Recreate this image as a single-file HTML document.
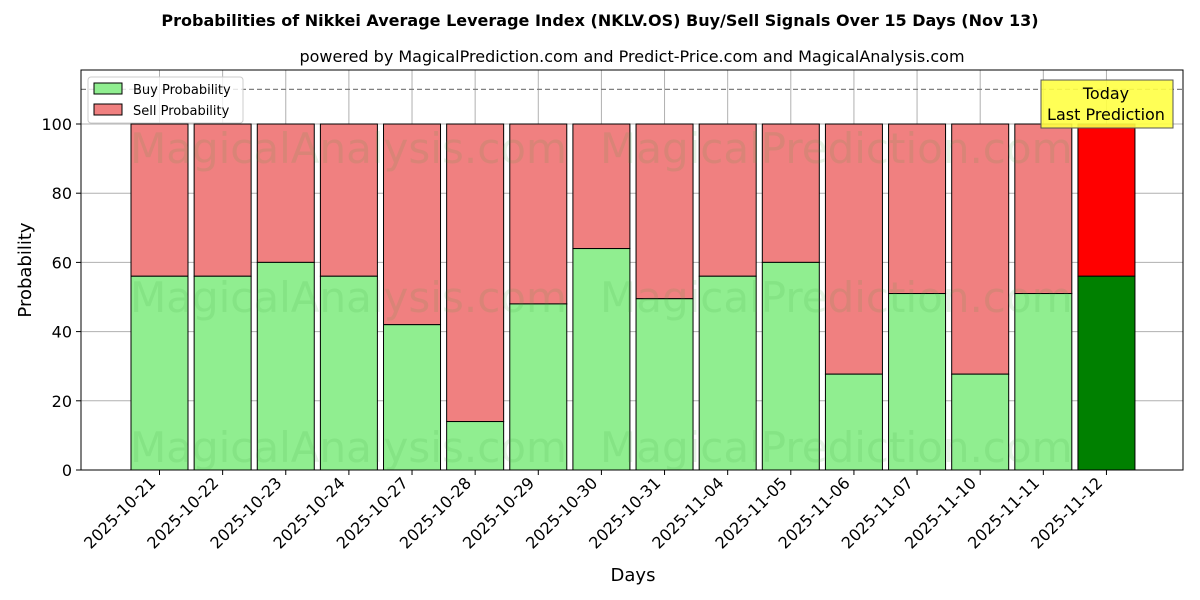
<!DOCTYPE html>
<html><head><meta charset="utf-8"><style>body{margin:0;background:#fff}svg{display:block}text{font-family:"DejaVu Sans","Liberation Sans",sans-serif}</style></head><body>
<svg width="1200" height="600" xmlns="http://www.w3.org/2000/svg">
<text x="600" y="26" text-anchor="middle" font-size="16" font-weight="bold">Probabilities of Nikkei Average Leverage Index (NKLV.OS) Buy/Sell Signals Over 15 Days (Nov 13)</text>
<text x="632" y="62" text-anchor="middle" font-size="16">powered by MagicalPrediction.com and Predict-Price.com and MagicalAnalysis.com</text>
<g id="grid" stroke="#b0b0b0" stroke-width="1"></g>
<g id="bars"></g>
<g fill="rgba(60,160,60,0.13)" font-size="42">
<text x="130" y="163">MagicalAnalysis.com</text><text x="600" y="163">MagicalPrediction.com</text>
<text x="130" y="312">MagicalAnalysis.com</text><text x="600" y="312">MagicalPrediction.com</text>
<text x="130" y="462">MagicalAnalysis.com</text><text x="600" y="462">MagicalPrediction.com</text>
</g>
<line x1="81" y1="89.4" x2="1183" y2="89.4" stroke="#808080" stroke-width="1.2" stroke-dasharray="5,3"/>
<rect x="81" y="70" width="1102" height="400" fill="none" stroke="#000" stroke-width="1"/>
<g id="ticks" font-size="16"></g>
<text x="633" y="581" text-anchor="middle" font-size="18">Days</text>
<text transform="translate(31,270) rotate(-90)" text-anchor="middle" font-size="18">Probability</text>
<g>
<rect x="88" y="77" width="155" height="46" fill="#fff" fill-opacity="0.8" stroke="#ccc" rx="3"/>
<rect x="94" y="83" width="28" height="11" fill="#90ee90" stroke="#000"/>
<text x="133" y="94" font-size="13">Buy Probability</text>
<rect x="94" y="104" width="28" height="11" fill="#f08080" stroke="#000"/>
<text x="133" y="115" font-size="13">Sell Probability</text>
</g>
<rect x="1041" y="80" width="132" height="48" fill="#ffff44" fill-opacity="0.9" stroke="#555"/>
<text x="1106" y="99" text-anchor="middle" font-size="16">Today</text>
<text x="1106" y="120" text-anchor="middle" font-size="16">Last Prediction</text>
<script>
var ns="http://www.w3.org/2000/svg";
function el(p,t,a,tx){var e=document.createElementNS(ns,t);for(var k in a)e.setAttribute(k,a[k]);if(tx!==undefined)e.textContent=String(tx);document.getElementById(p).appendChild(e);}
var d=["2025-10-21","2025-10-22","2025-10-23","2025-10-24","2025-10-27","2025-10-28","2025-10-29","2025-10-30","2025-10-31","2025-11-04","2025-11-05","2025-11-06","2025-11-07","2025-11-10","2025-11-11","2025-11-12"];
var v=[56,56,60,56,42,14,48,64,49.5,56,60,27.7,51,27.7,51,56];
function Y(p){return 470-p*3.46;}
for(var j=0;j<=100;j+=20){el("grid","line",{x1:81,x2:1183,y1:Y(j),y2:Y(j)});el("ticks","line",{x1:76,x2:81,y1:Y(j),y2:Y(j),stroke:"#000"});el("ticks","text",{x:72,y:Y(j)+6,"text-anchor":"end"},j);}
for(var i=0;i<16;i++){var c=159.5+63.13*i;el("grid","line",{x1:c,x2:c,y1:70,y2:470});
var last=i==15;
el("bars","rect",{x:c-28.5,y:Y(100),width:57,height:Y(v[i])-Y(100),fill:last?"#ff0000":"#f08080",stroke:"#000","stroke-width":1});
el("bars","rect",{x:c-28.5,y:Y(v[i]),width:57,height:470-Y(v[i]),fill:last?"#008000":"#90ee90",stroke:"#000","stroke-width":1});
el("ticks","line",{x1:c,x2:c,y1:470,y2:475,stroke:"#000"});
el("ticks","text",{x:0,y:0,"text-anchor":"end",transform:"translate("+(c-3)+",484) rotate(-45)"},d[i]);}
</script>
</svg>
</body></html>
